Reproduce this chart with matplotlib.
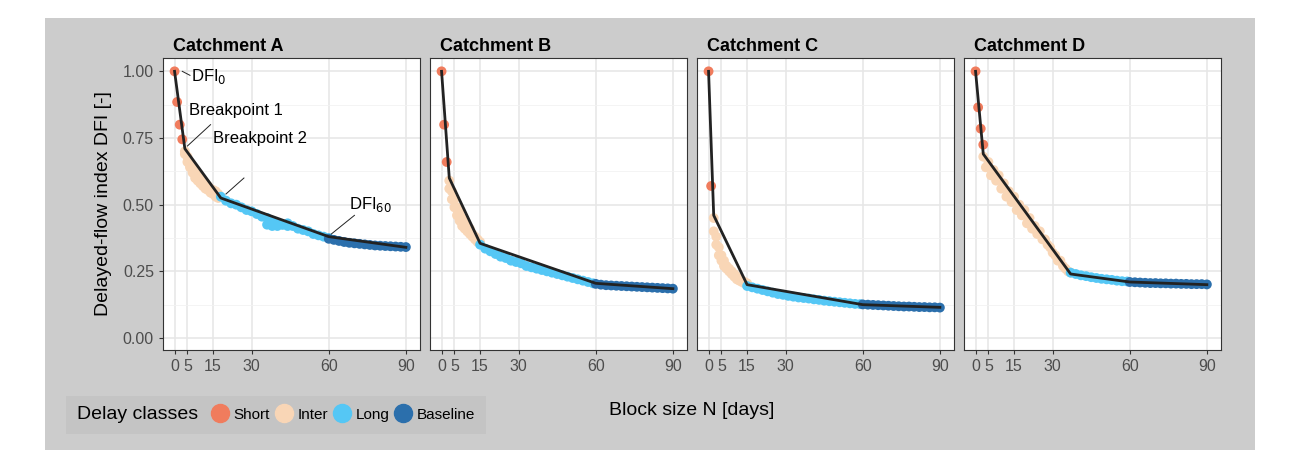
import matplotlib
matplotlib.use("Agg")
import matplotlib.pyplot as plt
from matplotlib.lines import Line2D

plt.rcParams['font.family'] = ['Liberation Sans', 'DejaVu Sans']

names = ['Catchment A', 'Catchment B', 'Catchment C', 'Catchment D']
colors = {'Short': '#f07c5d', 'Inter': '#f9d6b6', 'Long': '#55c7f5', 'Baseline': '#2b6fac'}

# points per catchment: class -> (x, y)
data = {
    'Catchment A': {
        'Short': ([0, 1, 2, 3], [1.0, 0.885, 0.80, 0.745]),
        'Inter': ([4, 4, 5, 5, 6, 6, 7, 7, 8, 8, 9, 9, 10, 10, 11, 11, 12, 12, 13, 13, 14, 14, 15, 15, 16, 16, 17, 17],
                  [0.70, 0.69, 0.68, 0.66, 0.65, 0.64, 0.64, 0.62, 0.62, 0.60, 0.61, 0.59, 0.60, 0.58, 0.59, 0.57,
                   0.58, 0.56, 0.57, 0.555, 0.56, 0.545, 0.555, 0.54, 0.55, 0.53, 0.54, 0.525]),
        'Long': ([18, 20, 22, 24, 26, 28, 30, 32, 34, 36, 38, 40, 42, 44, 46, 48, 50, 52, 54, 56, 58, 60, 36, 38, 40, 42, 44],
                 [0.53, 0.515, 0.505, 0.50, 0.49, 0.48, 0.475, 0.465, 0.455, 0.45, 0.44, 0.43, 0.425, 0.42, 0.42,
                  0.41, 0.405, 0.40, 0.39, 0.385, 0.38, 0.375, 0.425, 0.42, 0.42, 0.425, 0.43]),
        'Baseline': ([60, 62, 64, 66, 68, 70, 72, 74, 76, 78, 80, 82, 84, 86, 88, 90],
                     [0.372, 0.368, 0.364, 0.36, 0.357, 0.355, 0.353, 0.351, 0.349, 0.347, 0.346, 0.345, 0.344,
                      0.343, 0.342, 0.341]),
    },
    'Catchment B': {
        'Short': ([0, 1, 2], [1.0, 0.80, 0.66]),
        'Inter': ([3, 3, 4, 4, 5, 5, 6, 6, 7, 7, 8, 8, 9, 9, 10, 10, 11, 11, 12, 12, 13, 13, 14, 14, 15, 15],
                  [0.59, 0.56, 0.55, 0.52, 0.52, 0.49, 0.49, 0.46, 0.47, 0.44, 0.45, 0.42, 0.43, 0.41, 0.42, 0.40,
                   0.41, 0.39, 0.39, 0.38, 0.38, 0.37, 0.37, 0.36, 0.36, 0.355]),
        'Long': ([15, 17, 19, 21, 23, 25, 27, 29, 31, 33, 35, 37, 39, 41, 43, 45, 47, 49, 51, 53, 55, 57, 59],
                 [0.35, 0.335, 0.325, 0.315, 0.305, 0.30, 0.29, 0.285, 0.28, 0.27, 0.265, 0.26, 0.255, 0.25,
                  0.245, 0.24, 0.235, 0.23, 0.225, 0.22, 0.215, 0.21, 0.205]),
        'Baseline': ([60, 62, 64, 66, 68, 70, 72, 74, 76, 78, 80, 82, 84, 86, 88, 90],
                     [0.203, 0.20, 0.198, 0.197, 0.196, 0.195, 0.194, 0.193, 0.192, 0.191, 0.19, 0.189, 0.188,
                      0.187, 0.186, 0.185]),
    },
    'Catchment C': {
        'Short': ([0, 1], [1.0, 0.57]),
        'Inter': ([2, 2, 3, 3, 4, 4, 5, 5, 6, 6, 7, 7, 8, 8, 9, 9, 10, 10, 11, 11, 12, 12, 13, 13, 14, 14, 15, 15],
                  [0.45, 0.40, 0.38, 0.35, 0.34, 0.31, 0.31, 0.29, 0.29, 0.27, 0.27, 0.26, 0.26, 0.25, 0.25, 0.24,
                   0.24, 0.23, 0.23, 0.22, 0.22, 0.215, 0.215, 0.21, 0.21, 0.205, 0.205, 0.20]),
        'Long': ([15, 17, 19, 21, 23, 25, 27, 29, 31, 33, 35, 37, 39, 41, 43, 45, 47, 49, 51, 53, 55, 57, 59],
                 [0.195, 0.19, 0.185, 0.18, 0.175, 0.17, 0.165, 0.162, 0.158, 0.155, 0.152, 0.15, 0.148, 0.145,
                  0.143, 0.14, 0.138, 0.136, 0.134, 0.132, 0.13, 0.128, 0.127]),
        'Baseline': ([60, 62, 64, 66, 68, 70, 72, 74, 76, 78, 80, 82, 84, 86, 88, 90],
                     [0.126, 0.125, 0.124, 0.123, 0.122, 0.121, 0.12, 0.119, 0.118, 0.118, 0.117, 0.116, 0.116,
                      0.115, 0.115, 0.114]),
    },
    'Catchment D': {
        'Short': ([0, 1, 2, 3], [1.0, 0.865, 0.785, 0.725]),
        'Inter': ([3, 5, 7, 9, 11, 13, 15, 17, 19, 21, 23, 25, 27, 29, 31, 33, 35, 37,
                   4, 6, 8, 10, 12, 14, 16, 18, 20, 22, 24, 26, 28, 30, 32, 34, 36],
                  [0.68, 0.66, 0.63, 0.61, 0.58, 0.55, 0.53, 0.50, 0.48, 0.45, 0.42, 0.40, 0.37, 0.34, 0.31, 0.29,
                   0.26, 0.245,
                   0.64, 0.61, 0.59, 0.56, 0.53, 0.51, 0.48, 0.46, 0.43, 0.41, 0.39, 0.37, 0.35, 0.32, 0.29, 0.27,
                   0.25]),
        'Long': ([37, 39, 41, 43, 45, 47, 49, 51, 53, 55, 57, 59],
                 [0.245, 0.24, 0.235, 0.232, 0.228, 0.225, 0.222, 0.22, 0.218, 0.215, 0.213, 0.212]),
        'Baseline': ([60, 62, 64, 66, 68, 70, 72, 74, 76, 78, 80, 82, 84, 86, 88, 90],
                     [0.21, 0.209, 0.208, 0.207, 0.206, 0.206, 0.205, 0.205, 0.204, 0.204, 0.203, 0.203, 0.202,
                      0.202, 0.202, 0.201]),
    },
}

# piecewise fit through breakpoints
fits = {
    'Catchment A': ([0, 4, 18, 60, 90], [1.0, 0.71, 0.525, 0.38, 0.34]),
    'Catchment B': ([0, 3, 15, 60, 90], [1.0, 0.60, 0.355, 0.205, 0.185]),
    'Catchment C': ([0, 2, 15, 60, 90], [1.0, 0.46, 0.20, 0.125, 0.115]),
    'Catchment D': ([0, 3, 37, 60, 90], [1.0, 0.69, 0.24, 0.21, 0.20]),
}

W, H = 1291, 469
fig = plt.figure(figsize=(W / 100, H / 100), dpi=100)
fig.patch.set_facecolor('white')
fig.patches.append(plt.Rectangle((45 / W, 1 - 450 / H), 1210 / W, 432 / H, transform=fig.transFigure,
                                 facecolor='#cccccc', edgecolor='none', zorder=-10))

lefts = [163, 430, 697, 964]
pw, top, bot = 257, 58, 350
for name, lx in zip(names, lefts):
    ax = fig.add_axes([lx / W, 1 - bot / H, pw / W, (bot - top) / H])
    ax.set_xlim(-4.5, 95.5)
    ax.set_ylim(-0.045, 1.05)
    ax.set_xticks([0, 5, 15, 30, 60, 90])
    ax.set_yticks([0, 0.25, 0.5, 0.75, 1.0])
    ax.set_yticks([0.125, 0.375, 0.625, 0.875], minor=True)
    ax.grid(True, which='major', color='#e6e6e6', lw=1.1)
    ax.grid(True, which='minor', axis='y', color='#f2f2f2', lw=0.6)
    ax.set_axisbelow(True)
    for s in ax.spines.values():
        s.set_color('#333333')
        s.set_linewidth(0.8)
    ax.tick_params(which='minor', length=0)
    ax.tick_params(which='major', labelsize=11.5, labelcolor='#4d4d4d', color='#333333', length=3)
    if name == names[0]:
        ax.set_yticklabels(['0.00', '0.25', '0.50', '0.75', '1.00'])
        ax.set_ylabel('Delayed-flow index DFI [-]', fontsize=14, labelpad=8)
    else:
        ax.set_yticklabels([])
        ax.tick_params(axis='y', length=0)
    ax.set_title(name, loc='left', fontsize=13, fontweight='bold', pad=5, x=0.04)
    for cls in ['Inter', 'Long', 'Baseline', 'Short']:
        xs, ys = data[name][cls]
        ax.scatter(xs, ys, s=50, color=colors[cls], edgecolors='none', zorder=2)
    fx, fy = fits[name]
    ax.plot(fx, fy, color='#222222', lw=2, zorder=3)
    if name == 'Catchment A':
        kw = dict(fontsize=12, zorder=4)
        ax.text(6.5, 0.965, 'DFI$_0$', **kw)
        ax.plot([3, 6], [1.0, 0.985], color='#222222', lw=0.7)
        ax.text(5.5, 0.835, 'Breakpoint 1', **kw)
        ax.plot([5, 14], [0.72, 0.80], color='#222222', lw=0.7)
        ax.text(15, 0.73, 'Breakpoint 2', **kw)
        ax.plot([20, 27], [0.54, 0.60], color='#222222', lw=0.7)
        ax.text(68, 0.485, 'DFI$_{60}$', **kw)
        ax.plot([61, 70], [0.39, 0.46], color='#222222', lw=0.7)

fig.text(692 / W, 1 - 410 / H, 'Block size N [days]', ha='center', va='center', fontsize=14)

handles = [Line2D([], [], marker='o', ls='none', markersize=13, color=colors[c]) for c in colors]
leg = fig.legend(handles, list(colors), loc='lower left', bbox_to_anchor=(63 / W, 1 - 437 / H), ncol=4,
                 title='Delay classes', fontsize=11, title_fontsize=14, frameon=True, handletextpad=0.2,
                 columnspacing=0.2, handlelength=1.4, borderpad=0.4)
leg._legend_box.align = 'left'
leg.get_frame().set_facecolor('#c2c2c2')
leg.get_frame().set_edgecolor('none')
leg.get_frame().set_boxstyle('square')
# title beside the entries
leg._legend_box._children[0]._children
from matplotlib.offsetbox import HPacker
box = leg._legend_box
box.__class__ = HPacker
box.sep = 8
box.align = 'center'

fig.savefig('out.png', dpi=100)
